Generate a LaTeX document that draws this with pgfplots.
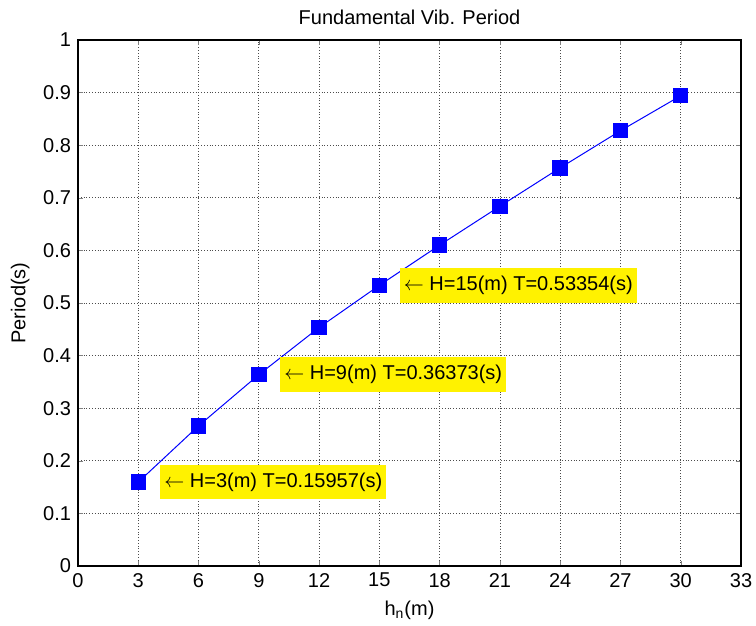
\documentclass[border=0pt]{standalone}
\usepackage{fontspec}
\setmainfont{Liberation Sans}
\usepackage{pgfplots}
\pgfplotsset{compat=1.18}

\definecolor{mblue}{rgb}{0,0,1}
\newcommand{\larr}{$\leftarrow$}
\newcommand{\fsz}{\fontsize{10}{11}\selectfont}

\begin{document}
\begin{tikzpicture}
\begin{axis}[
    scale only axis,
    width=331.5pt, height=263pt,
    xmin=0, xmax=33, ymin=0, ymax=1,
    xtick={0,3,...,33},
    ytick={0,0.1,0.2,0.3,0.4,0.5,0.6,0.7,0.8,0.9,1},
    yticklabels={0,0.1,0.2,0.3,0.4,0.5,0.6,0.7,0.8,0.9,1},
    /pgf/number format/assume math mode=true,
    tick label style={font=\fsz},
    label style={font=\fsz},
    title style={font=\fsz, yshift=-2pt},
    title={Fundamental Vib. Period},
    xlabel={h\textsubscript{n}(m)},
    ylabel={Period(s)},
    tick align=inside,
    major tick length=2.5pt,
    grid=major,
    major grid style={densely dotted, black!70, line width=0.4pt},
    axis line style={line width=0.8pt},
    clip=false,
]
\addplot[mblue, line width=0.5pt, mark=square*, mark size=3.6pt,
    mark options={solid, fill=mblue, draw=mblue}]
    coordinates {
        (3,0.15957)
        (6,0.2664)
        (9,0.36373)
        (12,0.4534)
        (15,0.53354)
        (18,0.6100)
        (21,0.6840)
        (24,0.7570)
        (27,0.8275)
        (30,0.8940)
    };
\node[anchor=west, fill=yellow, inner xsep=2pt, inner ysep=4pt,
    font=\fsz] at (axis cs:4.08,0.15957)
    {\larr\ H=3(m) T=0.15957(s)};
\node[anchor=west, fill=yellow, inner xsep=2pt, inner ysep=4pt,
    font=\fsz] at (axis cs:10.05,0.36373)
    {\larr\ H=9(m) T=0.36373(s)};
\node[anchor=west, fill=yellow, inner xsep=2pt, inner ysep=4pt,
    font=\fsz] at (axis cs:16.0,0.53354)
    {\larr\ H=15(m) T=0.53354(s)};
\coordinate (bl) at (rel axis cs:0,0);
\coordinate (tr) at (rel axis cs:1,1);
\end{axis}
\pgfresetboundingbox
\path[use as bounding box] ([xshift=-39pt,yshift=-29.5pt]bl) rectangle ([xshift=7.5pt,yshift=20pt]tr);
\end{tikzpicture}
\end{document}
